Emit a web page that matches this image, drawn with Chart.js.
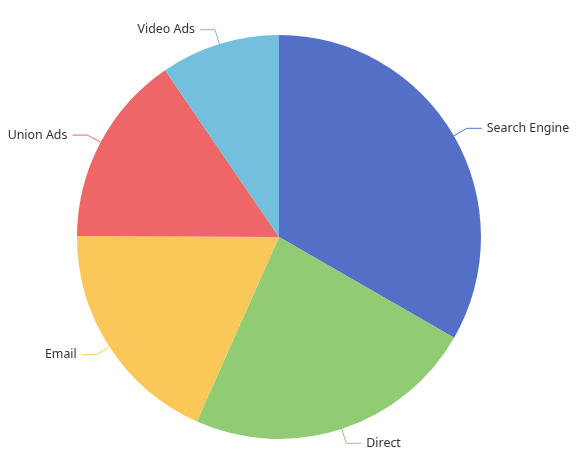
<!DOCTYPE html>
<html>
<head>
<meta charset="utf-8">
<script src="https://cdn.jsdelivr.net/npm/chart.js@4.4.0/dist/chart.umd.min.js"></script>
<style>
  html, body { margin: 0; padding: 0; background: #fff; }
  #wrap { width: 578px; height: 466px; position: relative; }
</style>
</head>
<body>
<div id="wrap"><canvas id="pie"></canvas></div>
<script>
// pie data
const sources = ['Search Engine', 'Direct', 'Email', 'Union Ads', 'Video Ads'];
const visits = [1048, 735, 580, 484, 300];

const palette = ['#5470c6', '#91cc75', '#fac858', '#ee6666', '#73c0de'];

// draws the outside labels with the two-part leader lines
const outsideLabels = {
  id: 'outsideLabels',
  afterDatasetsDraw(chart) {
    const ctx = chart.ctx;
    const arcs = chart.getDatasetMeta(0).data;
    ctx.save();
    ctx.font = '12.4px "Noto Sans", sans-serif';
    ctx.textBaseline = 'middle';
    arcs.forEach((arc, i) => {
      const { x, y, startAngle, endAngle, outerRadius } = arc.getProps(['x', 'y', 'startAngle', 'endAngle', 'outerRadius'], true);
      const mid = (startAngle + endAngle) / 2;
      const cos = Math.cos(mid), sin = Math.sin(mid);
      const x1 = x + outerRadius * cos, y1 = y + outerRadius * sin;
      const x2 = x + (outerRadius + 15) * cos, y2 = y + (outerRadius + 15) * sin;
      const dir = cos >= 0 ? 1 : -1;
      const x3 = x2 + 15 * dir;

      ctx.strokeStyle = palette[i];
      ctx.lineWidth = 1;
      ctx.beginPath();
      ctx.moveTo(x1, y1);
      ctx.lineTo(x2, y2);
      ctx.lineTo(x3, y2);
      ctx.stroke();

      ctx.fillStyle = '#333';
      ctx.textAlign = dir > 0 ? 'left' : 'right';
      ctx.fillText(sources[i], x3 + 5 * dir, y2);
    });
    ctx.restore();
  }
};

new Chart(document.getElementById('pie'), {
  type: 'pie',
  data: {
    labels: sources,
    datasets: [{
      data: visits,
      backgroundColor: palette,
      borderWidth: 0
    }]
  },
  options: {
    responsive: true,
    maintainAspectRatio: false,
    animation: false,
    layout: { padding: { left: 77, right: 97, top: 35, bottom: 27 } },
    plugins: {
      legend: { display: false },
      tooltip: { enabled: false }
    }
  },
  plugins: [outsideLabels]
});
</script>
</body>
</html>
